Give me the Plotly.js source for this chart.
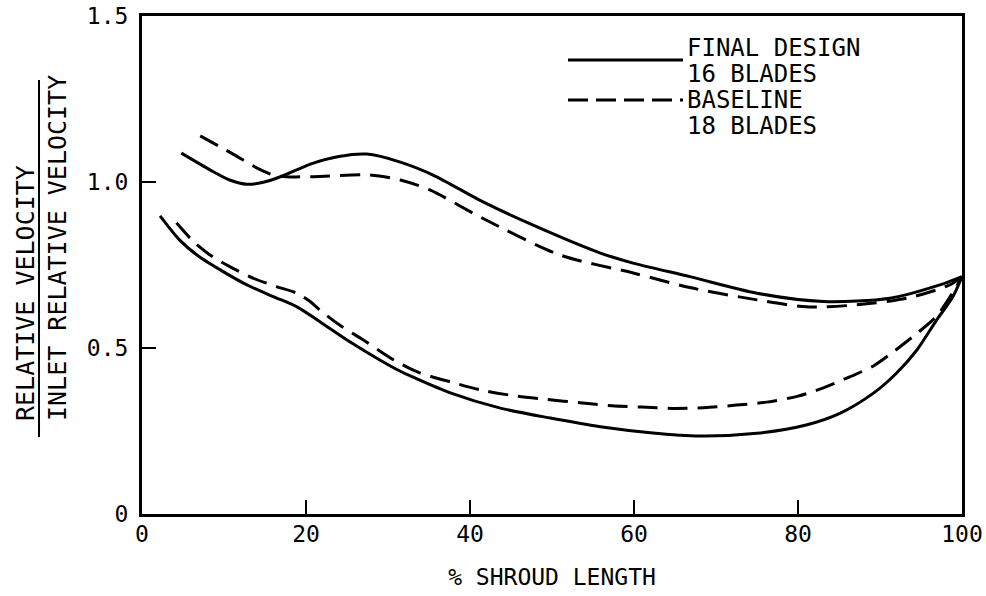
<!DOCTYPE html>
<html><head><meta charset="utf-8">
<script src="https://cdn.plot.ly/plotly-3.0.1.min.js"></script>
<style>body{margin:0;background:#fff}#chart{width:986px;height:596px}</style>
</head><body><div id="chart"></div>
<script>
// Final design, 16 blades (solid)
const finalUpperX = [4.8, 8.7, 10.7, 12.8, 14.8, 16.8, 20.9, 24, 27.4, 31.5, 35.5, 41.6, 47.7, 55.9, 60, 66.8, 75, 83.1, 91.2, 97.3, 100];
const finalUpperY = [1.087, 1.031, 1.006, 0.993, 0.999, 1.015, 1.057, 1.077, 1.084, 1.06, 1.021, 0.94, 0.87, 0.786, 0.755, 0.715, 0.665, 0.64, 0.65, 0.69, 0.715];
const finalLowerX = [2.2, 4.6, 6.7, 9.9, 12.8, 16, 18.9, 21.7, 25, 29, 31.5, 33, 37.6, 43.7, 49.8, 55.9, 62, 68, 75, 81, 85.1, 89.2, 92, 94.5, 96.9, 98.9, 100];
const finalLowerY = [0.898, 0.825, 0.78, 0.73, 0.69, 0.655, 0.624, 0.579, 0.524, 0.464, 0.43, 0.413, 0.365, 0.319, 0.289, 0.263, 0.245, 0.235, 0.243, 0.268, 0.303, 0.364, 0.424, 0.494, 0.584, 0.655, 0.715];
// Baseline, 18 blades (dashed)
const baseUpperX = [7.1, 10.9, 14.1, 16, 17.6, 20.9, 27.8, 31.5, 35.1, 41.6, 51, 59.9, 66.8, 75, 81, 87.2, 93.3, 98.5, 100];
const baseUpperY = [1.139, 1.087, 1.041, 1.021, 1.016, 1.016, 1.021, 1.006, 0.976, 0.89, 0.78, 0.726, 0.682, 0.645, 0.624, 0.63, 0.65, 0.69, 0.715];
const baseLowerX = [4.2, 6.3, 8.3, 10.7, 13.6, 16.4, 18.9, 20.5, 21.7, 24.1, 27, 30.7, 33.8, 37.9, 41.6, 45.7, 49.4, 53.4, 57.3, 60.9, 64.7, 68.5, 72.5, 76.2, 80, 83.1, 86.3, 89.2, 91.6, 94.4, 96.9, 99, 100];
const baseLowerY = [0.877, 0.82, 0.78, 0.745, 0.71, 0.685, 0.665, 0.64, 0.614, 0.569, 0.524, 0.464, 0.426, 0.396, 0.372, 0.355, 0.345, 0.335, 0.326, 0.322, 0.318, 0.32, 0.328, 0.337, 0.355, 0.38, 0.413, 0.446, 0.488, 0.542, 0.596, 0.672, 0.715];

const xTickVals = [0, 20, 40, 60, 80, 100];
const xTickText = ['0', '20', '40', '60', '80', '100'];
const yTickVals = [0, 0.5, 1.0, 1.5];
const yTickText = ['0', '0.5', '1.0', '1.5'];
const legendLabels = [['FINAL DESIGN', '16 BLADES'], ['BASELINE', '18 BLADES']];
const xTitle = '% SHROUD LENGTH';
const yTitleTop = 'RELATIVE VELOCITY';
const yTitleBottom = 'INLET RELATIVE VELOCITY';

const FONT = 'DejaVu Sans Mono, monospace';
const solid = {color: '#000', width: 3, shape: 'spline', smoothing: 0.8};
const dashed = {color: '#000', width: 3, shape: 'spline', smoothing: 0.8, dash: '20px,10px'};

const traces = [
  {x: finalUpperX, y: finalUpperY, mode: 'lines', line: solid, hoverinfo: 'skip'},
  {x: finalLowerX, y: finalLowerY, mode: 'lines', line: solid, hoverinfo: 'skip'},
  {x: baseUpperX, y: baseUpperY, mode: 'lines', line: dashed, hoverinfo: 'skip'},
  {x: baseLowerX, y: baseLowerY, mode: 'lines', line: dashed, hoverinfo: 'skip'}
];

const layout = {
  width: 986, height: 596,
  margin: {l: 142, r: 24, t: 16, b: 82},
  paper_bgcolor: '#fff', plot_bgcolor: '#fff',
  showlegend: false,
  font: {family: FONT, color: '#000', size: 23},
  xaxis: {
    range: [0, 100], tickvals: xTickVals, ticktext: xTickText,
    ticks: 'inside', ticklen: 14, tickwidth: 2, tickcolor: '#000',
    showline: true, linewidth: 3, linecolor: '#000', mirror: true,
    showgrid: false, zeroline: false, ticklabelstandoff: -3,
    tickfont: {family: FONT, size: 23},
    title: {text: xTitle, font: {family: FONT, size: 23}, standoff: 24}
  },
  yaxis: {
    range: [0, 1.5], tickvals: yTickVals, ticktext: yTickText,
    ticks: 'inside', ticklen: 14, tickwidth: 2, tickcolor: '#000',
    showline: true, linewidth: 3, linecolor: '#000', mirror: true,
    showgrid: false, zeroline: false, ticklabelstandoff: 6,
    tickfont: {family: FONT, size: 23}
  },
  shapes: [
    {type: 'line', xref: 'paper', yref: 'paper', x0: 0.5195, x1: 0.6598, y0: 0.9116, y1: 0.9116, line: {color: '#000', width: 3}},
    {type: 'line', xref: 'paper', yref: 'paper', x0: 0.5195, x1: 0.6598, y0: 0.8313, y1: 0.8313, line: {color: '#000', width: 3, dash: '20px,8px'}},
    {type: 'line', xref: 'paper', yref: 'paper', x0: -0.1256, x1: -0.1256, y0: 0.1546, y1: 0.8715, line: {color: '#000', width: 2}}
  ],
  annotations: [
    {xref: 'paper', yref: 'paper', x: 0.6622, y: 0.9357, xanchor: 'left', yanchor: 'middle', text: legendLabels[0][0], showarrow: false, font: {family: FONT, size: 24}},
    {xref: 'paper', yref: 'paper', x: 0.6622, y: 0.8835, xanchor: 'left', yanchor: 'middle', text: legendLabels[0][1], showarrow: false, font: {family: FONT, size: 24}},
    {xref: 'paper', yref: 'paper', x: 0.6622, y: 0.8313, xanchor: 'left', yanchor: 'middle', text: legendLabels[1][0], showarrow: false, font: {family: FONT, size: 24}},
    {xref: 'paper', yref: 'paper', x: 0.6622, y: 0.7791, xanchor: 'left', yanchor: 'middle', text: legendLabels[1][1], showarrow: false, font: {family: FONT, size: 24}},
    {xref: 'paper', yref: 'paper', x: -0.1427, y: 0.1827, xanchor: 'center', yanchor: 'bottom', textangle: -90, text: yTitleTop, showarrow: false, font: {family: FONT, size: 25}},
    {xref: 'paper', yref: 'paper', x: -0.1037, y: 0.1827, xanchor: 'center', yanchor: 'bottom', textangle: -90, text: yTitleBottom, showarrow: false, font: {family: FONT, size: 25}}
  ]
};

Plotly.newPlot('chart', traces, layout, {staticPlot: true, displayModeBar: false});
</script></body></html>
